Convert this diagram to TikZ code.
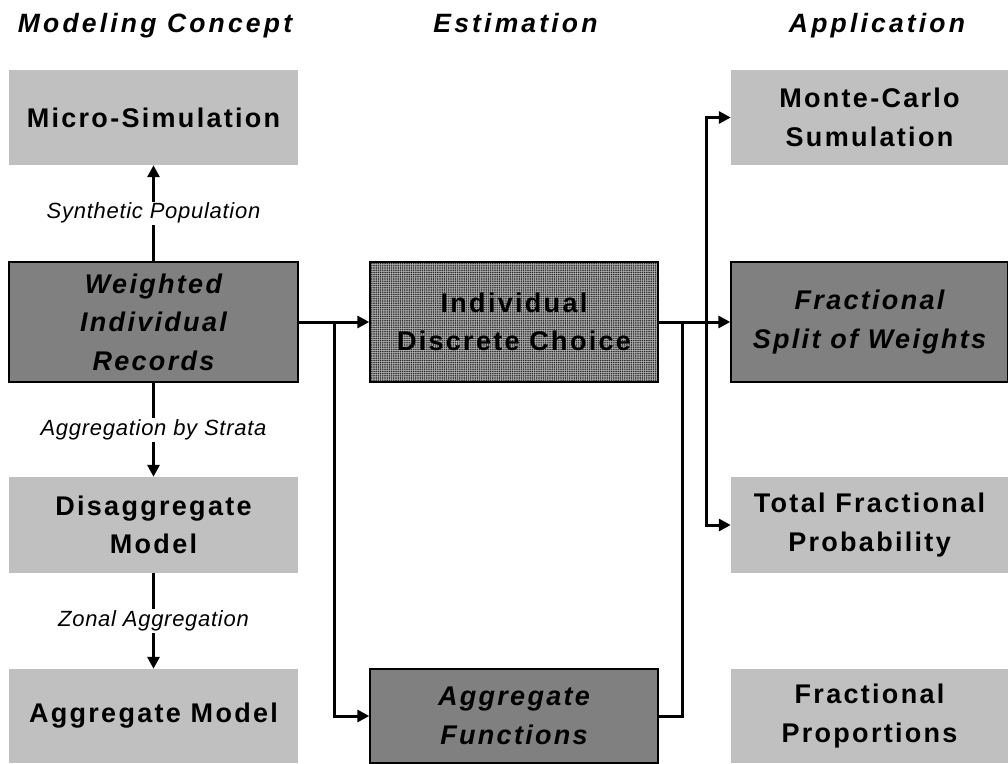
\documentclass[tikz,border=0pt]{standalone}
\usepackage{fontspec}
\setmainfont{Liberation Sans}
\newfontfamily\boxfont[LetterSpace=8.5]{Liberation Sans}
\newfontfamily\headfont[LetterSpace=12]{Liberation Sans}
\newfontfamily\lblfont[LetterSpace=3.3]{Liberation Sans}
\usetikzlibrary{arrows.meta,patterns.meta}
\definecolor{lightbox}{HTML}{C0C0C0}
\definecolor{darkbox}{HTML}{808080}
\definecolor{patbase}{HTML}{B0B0B0}
\tikzset{
  box/.style={inner sep=0pt, align=center, text=black,
    font=\boxfont\bfseries\fontsize{27}{38.5}\selectfont},
  lightbox/.style={box, fill=lightbox},
  darkbox/.style={box, fill=darkbox, draw=black, line width=1.4pt,
    font=\boxfont\bfseries\itshape\fontsize{27}{38.5}\selectfont},
  patbox/.style={box, draw=black, line width=1.4pt, preaction={fill=patbase},
    pattern={Dots[distance=2.2pt,radius=0.85pt]}, pattern color=black!85},
  colL/.style={minimum width=289pt},
  colM/.style={minimum width=288pt},
  colR/.style={minimum width=277pt},
  rowA/.style={minimum height=95pt},
  rowB/.style={minimum height=120pt},
  rowC/.style={minimum height=96pt},
  rowD/.style={minimum height=94pt},
  header/.style={anchor=base, inner sep=0pt,
    font=\headfont\bfseries\itshape\fontsize{26.5}{30}\selectfont},
  lbl/.style={fill=white, inner sep=1.5pt,
    font=\lblfont\itshape\fontsize{22}{25}\selectfont},
  conn/.style={line width=3pt},
  arr/.style={conn, -{Triangle[length=12pt,width=12pt]}}
}
\begin{document}
\begin{tikzpicture}[x=1pt,y=-1pt]
\fill[white] (0,0) rectangle (1008,763);
\useasboundingbox (0,0) rectangle (1008,763);

% headers
\node[header] (h1) at (155,32) {Modeling Concept};
\node[header] (h2) at (515.5,32) {Estimation};
\node[header] (h3) at (877,32) {Application};

% left column
\node[lightbox,colL,rowA] (micro) at (153.5,117.5) {Micro-Simulation};
\node[darkbox,colL,rowB] (weighted) at (153.5,322) {Weighted\\Individual\\Records};
\node[lightbox,colL,rowC] (disagg) at (153.5,525) {Disaggregate\\Model};
\node[lightbox,colL,rowD] (aggmodel) at (153.5,716) {Aggregate Model};

% middle column
\node[patbox,colM,rowB] (indiv) at (514,322) {Individual\\Discrete Choice};
\node[darkbox,colM,rowD] (aggfun) at (514,716) {Aggregate\\Functions};

% right column
\node[lightbox,colR,rowA] (monte) at (869.5,117.5) {Monte-Carlo\\Sumulation};
\node[darkbox,colR,rowB] (split) at (869.5,322) {Fractional\\Split of Weights};
\node[lightbox,colR,rowC] (total) at (869.5,525) {Total Fractional\\Probability};
\node[lightbox,colR,rowD] (props) at (869.5,716) {Fractional\\Proportions};

% junctions
\coordinate (j1) at (334,322);
\coordinate (j2) at (706,322);
\coordinate (j3) at (682,322);

% connectors
\draw[arr] (weighted) -- node[lbl]{Synthetic Population} (micro);
\draw[arr] (weighted) -- node[lbl]{Aggregation by Strata} (disagg);
\draw[arr] (disagg) -- node[lbl]{Zonal Aggregation} (aggmodel);
\draw[arr] (weighted) -- (indiv);
\draw[arr] (j1) |- (aggfun.west);
\draw[arr] (indiv) -- (split);
\draw[arr] (j2) |- (monte.west);
\draw[arr] (j2) |- (total.west);
\draw[conn] (aggfun.east) -| (j3);
\end{tikzpicture}
\end{document}
